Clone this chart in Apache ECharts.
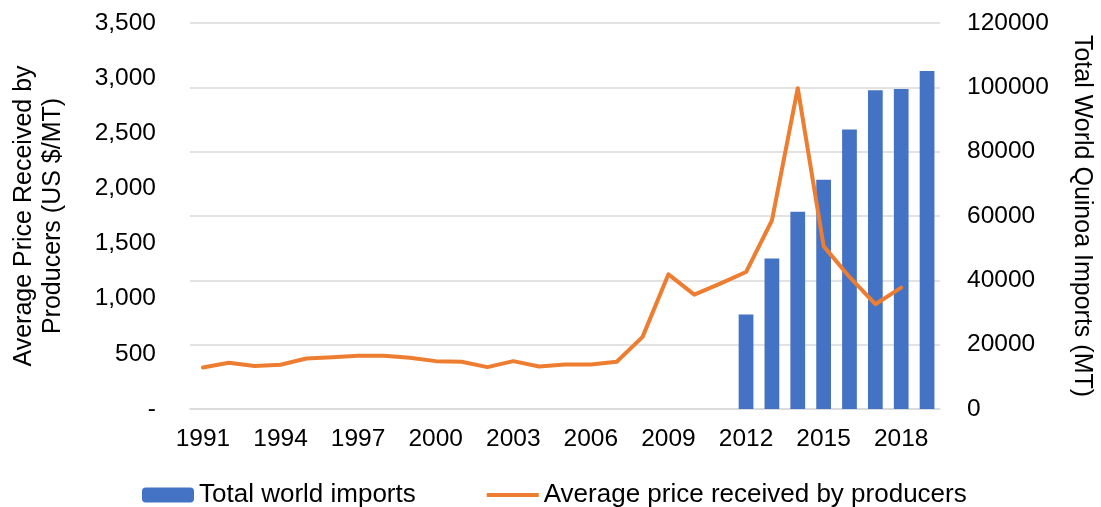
<!DOCTYPE html>
<html>
<head>
<meta charset="utf-8">
<script src="https://cdn.jsdelivr.net/npm/echarts@6/dist/echarts.min.js"></script>
<style>
  html, body { margin: 0; padding: 0; background: #fff; }
  #chart { width: 1101px; height: 507px; }
</style>
</head>
<body>
<div id="chart"></div>
<script>
const years = []
for (let y = 1991; y <= 2019; y++) years.push(String(y))

// world imports (MT), 1991-2019, only 2012 onward reported
const imports = [
  null, null, null, null, null, null, null, null, null, null,
  null, 29400, 46800, 61300, 71300, 86900, 99100, 99500, 105100
]
while (imports.length < years.length) imports.unshift(null)

// average producer price (US $/MT), 1991-2019
const price = [
  377, 419, 389, 401, 458, 470, 482, 482, 464, 434,
  428, 380, 434, 386, 404, 404, 428, 654, 1221, 1037,
  1137, 1242, 1709, 2909, 1477, 1197, 950, 1101, null
]

const font = 'Liberation Sans, Arial, sans-serif'
const chart = echarts.init(document.getElementById('chart'))

chart.setOption({
  animation: false,
  textStyle: { fontFamily: font },
  grid: { left: 190, right: 161, top: 23, bottom: 98, outerBoundsMode: 'none' },
  legend: {
    top: 477,
    left: 137,
    itemWidth: 52,
    itemHeight: 15,
    itemGap: 71,
    textStyle: { fontSize: 26, color: '#000', fontFamily: font },
    data: [
      { name: 'Total world imports' },
      { name: 'Average price received by producers', icon: 'path://M0,0 L52,0 L52,4 L0,4 Z' }
    ]
  },
  xAxis: {
    type: 'category',
    data: years,
    axisLine: { lineStyle: { color: '#d9d9d9', width: 1.5 } },
    axisTick: { show: false },
    axisLabel: { interval: 2, fontSize: 24.5, color: '#000', margin: 18 }
  },
  yAxis: [
    {
      type: 'value',
      min: 0,
      max: 3500,
      interval: 500,
      name: 'Average Price Received by\nProducers (US $/MT)',
      nameLocation: 'middle',
      nameGap: 122,
      nameTextStyle: { fontSize: 25, color: '#000', lineHeight: 29 },
      splitLine: { show: false },
      axisLine: { show: false },
      axisTick: { show: false },
      axisLabel: {
        fontSize: 24.5, color: '#000', margin: 34,
        formatter: v => v === 0 ? '-' : v.toLocaleString('en-US')
      }
    },
    {
      type: 'value',
      min: 0,
      max: 120000,
      interval: 20000,
      position: 'right',
      name: 'Total World Quinoa Imports (MT)',
      nameLocation: 'middle',
      nameRotate: -90,
      nameGap: 129,
      nameTextStyle: { fontSize: 25, color: '#000' },
      splitLine: { lineStyle: { color: '#d9d9d9', width: 1.5 } },
      axisLine: { show: false },
      axisTick: { show: false },
      axisLabel: { fontSize: 24.5, color: '#000', margin: 27, formatter: v => String(v) }
    }
  ],
  series: [
    {
      name: 'Total world imports',
      type: 'bar',
      yAxisIndex: 1,
      data: imports,
      barWidth: '57%',
      itemStyle: { color: '#4472c4' }
    },
    {
      name: 'Average price received by producers',
      type: 'line',
      yAxisIndex: 0,
      data: price,
      symbol: 'none',
      lineStyle: { color: '#ed7d31', width: 4, cap: 'round', join: 'round' },
      itemStyle: { color: '#ed7d31' }
    }
  ]
})
</script>
</body>
</html>
